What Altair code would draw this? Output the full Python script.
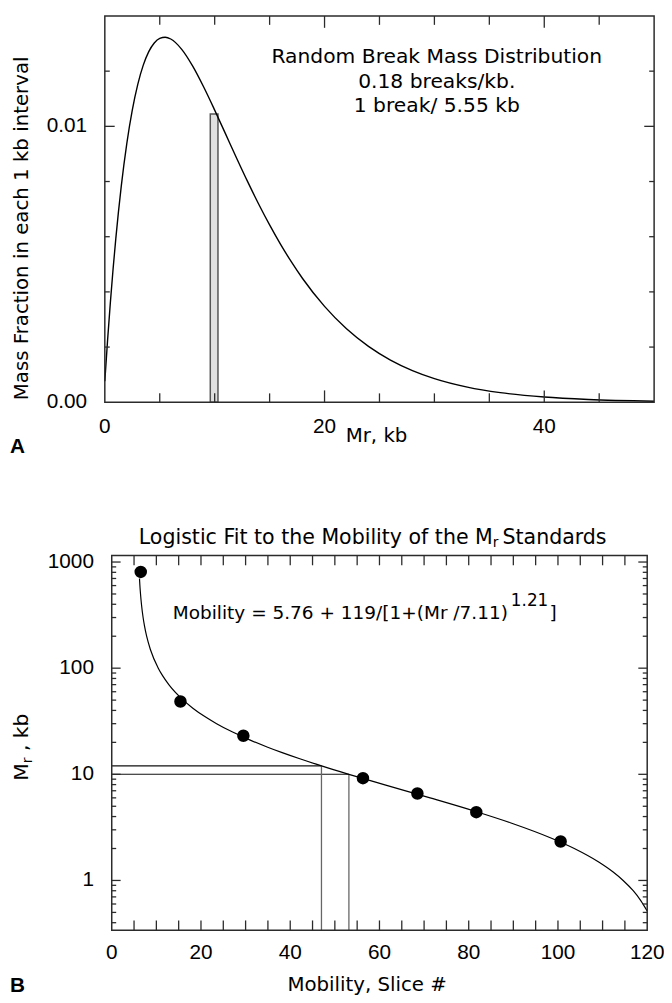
import altair as alt
import pandas as pd

# ---------------- Panel A : random break mass distribution ----------------
mass_kb = [0, 0.25, 0.5, 0.75, 1, 1.5, 2, 2.5, 3, 3.5, 4, 4.5, 5, 5.5, 6, 7, 8, 9,
           10, 11, 12, 13, 14, 15, 16, 17, 18, 20, 22, 24, 26, 28, 30, 33, 36, 40, 44, 50]
mass_frac = [0.000761, 0.002243, 0.003593, 0.004820, 0.005931, 0.007840, 0.009376,
             0.010589, 0.011523, 0.012218, 0.012708, 0.013022, 0.013189, 0.013229,
             0.013165, 0.012791, 0.012182, 0.011426, 0.010589, 0.009717, 0.008845,
             0.007995, 0.007187, 0.006427, 0.005722, 0.005076, 0.004485, 0.003474,
             0.002663, 0.002026, 0.001530, 0.001148, 0.000858, 0.000550, 0.000349,
             0.000189, 0.000101, 0.0000389]
bar_from = [9.6]
bar_to = [10.3]
bar_frac = [0.01045]
bar_base = [0.0]
a_x_domain = [0, 50]
a_y_domain = [0, 0.014]
a_x_labels = [0, 20, 40]
a_x_major = [20, 40]
a_x_minor = [5, 10, 15, 25, 30, 35, 45]
a_y_labels = [0.0, 0.01]
a_y_label_text = ["0.00", "0.01"]
a_y_major = [0.01]
a_y_minor = [0.002, 0.004, 0.006, 0.008, 0.012]
a_notes = ["Random Break Mass Distribution", "0.18 breaks/kb.", "1 break/ 5.55 kb"]

# ---------------- Panel B : logistic fit of Mr standards ----------------
std_mobility = [6.5, 15.4, 29.5, 56.3, 68.5, 81.7, 100.6]
std_mr = [807, 48.5, 23.1, 9.2, 6.6, 4.4, 2.33]
fit_mr = [700, 600, 500, 400, 300, 250, 200, 150, 100, 85, 70, 50, 42, 35, 30, 25, 21,
          18, 16, 14, 12, 10, 8, 6, 4.5, 3.5, 2.5, 2, 1.5, 1.2, 1.0, 0.8, 0.65, 0.515]
fit_mobility = [6.22, 6.31, 6.45, 6.66, 7.03, 7.34, 7.82, 8.66, 10.43, 11.39, 12.79,
                16.03, 18.18, 20.86, 23.50, 27.09, 31.04, 34.95, 38.20, 42.15, 47.02,
                53.15, 61.02, 71.35, 81.32, 89.32, 98.56, 103.66, 109.04, 112.37,
                114.61, 116.86, 118.52, 120.0]
guide_mr = [12, 10]
guide_mobility = [47.0, 53.15]
b_x_domain = [0, 120]
b_y_domain = [0.339, 1155]
b_x_labels = [0, 20, 40, 60, 80, 100, 120]
b_x_ticks = [5, 10, 15, 20, 25, 30, 35, 40, 45, 50, 55, 60, 65, 70, 75, 80, 85, 90,
             95, 100, 105, 110, 115]
b_y_labels = [1, 10, 100, 1000]
b_y_minor = [0.4, 0.5, 0.6, 0.7, 0.8, 0.9, 2, 3, 4, 5, 6, 7, 8, 9, 20, 30, 40, 50,
             60, 70, 80, 90, 200, 300, 400, 500, 600, 700, 800, 900]

INK = "#2b2b2b"
TXT = "DejaVu Sans"
NUM = "Liberation Sans"

# whole figure is one canvas; each panel gets its own scales with pixel ranges
FIG_W, FIG_H = 664, 995
A_L, A_R, A_T, A_B = 98, 654, 2, 393
B_L, B_R, B_T, B_B = 105, 647, 548, 927.5

ax_scale = alt.Scale(domain=a_x_domain, range=[A_L, A_R], nice=False, zero=False)
ay_scale = alt.Scale(domain=a_y_domain, range=[A_B, A_T], nice=False, zero=False)
bx_scale = alt.Scale(domain=b_x_domain, range=[B_L, B_R], nice=False, zero=False)
by_scale = alt.Scale(type="log", domain=b_y_domain, range=[B_B, B_T], nice=False)
# identity pixel scale, used only for the length of the inward x tick marks
pix_scale = alt.Scale(domain=[0, FIG_H], range=[0, FIG_H], nice=False, zero=False)


def frame(xs, ys, xsc, ysc):
    df = pd.DataFrame({"x0": [xs[0]], "x1": [xs[1]], "y0": [ys[0]], "y1": [ys[1]]})
    return alt.Chart(df).mark_rect(fill="transparent", stroke=INK, strokeWidth=1.5).encode(
        x=alt.X("x0:Q", scale=xsc, axis=None), x2="x1:Q",
        y=alt.Y("y0:Q", scale=ysc, axis=None), y2="y1:Q")


def xticks(vals, scale, length, bottom, top):
    # short vertical tick marks pointing into the plot from the bottom and top edges
    out = []
    for start, end in ((bottom, bottom - length), (top, top + length)):
        df = pd.DataFrame({"v": vals, "p0": [start] * len(vals), "p1": [end] * len(vals)})
        out.append(alt.Chart(df).mark_rule(color=INK, strokeWidth=1.3).encode(
            x=alt.X("v:Q", scale=scale, axis=None),
            y=alt.Y("p0:Q", scale=pix_scale, axis=None), y2="p1:Q"))
    return out


def yticks(vals, scale, length, left, right):
    df = pd.DataFrame({"v": vals})
    base = alt.Chart(df).mark_rule(color=INK, strokeWidth=1.3)
    ey = alt.Y("v:Q", scale=scale, axis=None)
    return [base.encode(y=ey, x=alt.value(left), x2=alt.value(left + length)),
            base.encode(y=ey, x=alt.value(right), x2=alt.value(right - length))]


def xlabels(vals, texts, scale, y):
    df = pd.DataFrame({"v": vals, "t": texts})
    return alt.Chart(df).mark_text(align="center", baseline="alphabetic", font=NUM,
                                   fontSize=21, color="black").encode(
        x=alt.X("v:Q", scale=scale, axis=None), y=alt.value(y), text="t:N")


def ylabels(vals, texts, scale, x):
    df = pd.DataFrame({"v": vals, "t": texts})
    return alt.Chart(df).mark_text(align="right", baseline="middle", font=NUM,
                                   fontSize=21, color="black").encode(
        y=alt.Y("v:Q", scale=scale, axis=None), x=alt.value(x), text="t:N")


def label(text, x, y, size=20, align="left", angle=0, weight="normal", font=TXT):
    df = pd.DataFrame({"t": [text]})
    kw = dict(align=align, baseline="alphabetic", fontSize=size, font=font,
              fontWeight=weight, color="black")
    if angle:
        kw["angle"] = angle
    return alt.Chart(df).mark_text(**kw).encode(
        x=alt.value(x), y=alt.value(y), text="t:N")


# ---------------- panel A layers ----------------
a_df = pd.DataFrame({"kb": mass_kb, "frac": mass_frac})
a_curve = alt.Chart(a_df).mark_line(color="black", strokeWidth=1.4,
                                    interpolate="monotone").encode(
    x=alt.X("kb:Q", scale=ax_scale, axis=None),
    y=alt.Y("frac:Q", scale=ay_scale, axis=None),
    order="kb:Q",
)
a_bar_df = pd.DataFrame({"x0": bar_from, "x1": bar_to, "h": bar_frac, "b": bar_base})
a_bar = alt.Chart(a_bar_df).mark_rect(fill="#e0e0e0", stroke="#555555",
                                      strokeWidth=1.5).encode(
    x=alt.X("x0:Q", scale=ax_scale, axis=None), x2="x1:Q",
    y=alt.Y("h:Q", scale=ay_scale, axis=None), y2="b:Q")

layers = [a_bar, a_curve, frame(a_x_domain, a_y_domain, ax_scale, ay_scale)]
layers += xticks(a_x_major, ax_scale, 12, A_B, A_T) + xticks(a_x_minor, ax_scale, 9, A_B, A_T)
layers += yticks(a_y_major, ay_scale, 10, A_L, A_R) + yticks(a_y_minor, ay_scale, 5, A_L, A_R)
layers += [
    xlabels(a_x_labels, [str(v) for v in a_x_labels], ax_scale, 424),
    ylabels(a_y_labels, a_y_label_text, ay_scale, 80),
    label("Mr, kb", 373, 433, align="center"),
    label("Mass Fraction in each 1 kb interval", 20, 217, align="center", angle=270),
    label(a_notes[0], 434, 49.3, size=20.5, align="center"),
    label(a_notes[1], 434, 74.7, size=20.5, align="center"),
    label(a_notes[2], 434, 99.3, size=20.5, align="center"),
    label("A", 2, 444, size=21, weight="bold", font=NUM),
]

# ---------------- panel B layers ----------------
fit_df = pd.DataFrame({"mob": fit_mobility, "mr": fit_mr})
b_fit = alt.Chart(fit_df).mark_line(color="black", strokeWidth=1.2,
                                    interpolate="monotone").encode(
    x=alt.X("mob:Q", scale=bx_scale, axis=None),
    y=alt.Y("mr:Q", scale=by_scale, axis=None),
    order="mob:Q",
)
g_df = pd.DataFrame({"mr": guide_mr, "mob": guide_mobility,
                     "start": [b_x_domain[0]] * 2, "floor": [b_y_domain[0]] * 2})
b_hguide = alt.Chart(g_df).mark_rule(color="#111111", strokeWidth=1.1).encode(
    x=alt.X("start:Q", scale=bx_scale, axis=None), x2="mob:Q",
    y=alt.Y("mr:Q", scale=by_scale, axis=None))
b_vguide = alt.Chart(g_df).mark_rule(color="#666666", strokeWidth=1.3).encode(
    x=alt.X("mob:Q", scale=bx_scale, axis=None),
    y=alt.Y("mr:Q", scale=by_scale, axis=None), y2="floor:Q")
pts_df = pd.DataFrame({"mob": std_mobility, "mr": std_mr})
b_pts = alt.Chart(pts_df).mark_circle(color="black", opacity=1, size=160).encode(
    x=alt.X("mob:Q", scale=bx_scale, axis=None),
    y=alt.Y("mr:Q", scale=by_scale, axis=None))

layers += [b_hguide, b_vguide, b_fit, b_pts,
           frame(b_x_domain, b_y_domain, bx_scale, by_scale)]
layers += xticks(b_x_ticks, bx_scale, 10, B_B, B_T)
layers += yticks(b_y_labels, by_scale, 9, B_L, B_R) + yticks(b_y_minor, by_scale, 4.5, B_L, B_R)
layers += [
    xlabels(b_x_labels, [str(v) for v in b_x_labels], bx_scale, 957),
    ylabels(b_y_labels, [str(v) for v in b_y_labels], by_scale, 87),
    label("Mobility, Slice #", 363.5, 989, align="center"),
    # title with subscript r
    label("Logistic Fit to the Mobility of the M", 490.7, 536, size=20.8, align="right"),
    label("r", 490.7, 539.5, size=14),
    label("Standards", 500.5, 536, size=20.8),
    # fit equation with superscript exponent
    label("Mobility = 5.76 + 119/[1+(Mr /7.11)", 506, 612.7, size=18.7, align="right"),
    label("1.21", 509, 599.3, size=17),
    label("]", 548, 612.7, size=18.7),
    # rotated y title  M_r , kb
    label("M", 20.5, 776, size=20.5, angle=270),
    label("r", 24.5, 758.3, size=14, angle=270),
    label(", kb", 20.5, 746, size=20.5, angle=270),
    label("B", 2, 990, size=21, weight="bold", font=NUM),
]

chart = alt.layer(*layers).resolve_scale(
    x="independent", y="independent"
).properties(
    width=FIG_W, height=FIG_H,
    autosize=alt.AutoSizeParams(type="none"),
    padding=0,
    background="white",
).configure_view(stroke="transparent")

chart.save("out.html", embed_options={"renderer": "svg", "actions": False})
